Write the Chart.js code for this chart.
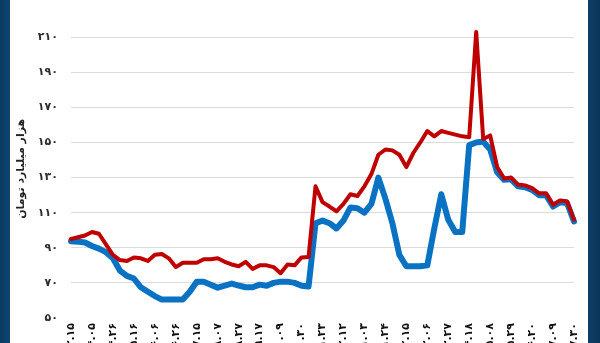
<!DOCTYPE html>
<html>
<head>
<meta charset="utf-8">
<script src="https://cdn.jsdelivr.net/npm/chart.js@4/dist/chart.umd.min.js"></script>
<style>
  html, body { margin: 0; padding: 0; }
  body {
    width: 600px; height: 343px; overflow: hidden;
    background: linear-gradient(to right, #0b3a60 0px, #0d4470 10px, #ffffff 10px, #ffffff 588px, #0c3f68 588px, #0a3459 600px);
  }
  #wrap { position: absolute; left: 0; top: 0; width: 600px; height: 400px; }
</style>
</head>
<body>
<div id="wrap"><canvas id="c" width="600" height="400"></canvas></div>
<script>
// Weekly dates (Solar Hijri)
const weeks = [
  '۱۴۰۰.۰۳.۱۵','۱۴۰۰.۰۳.۲۲','۱۴۰۰.۰۳.۲۹','۱۴۰۰.۰۴.۰۵','۱۴۰۰.۰۴.۱۲','۱۴۰۰.۰۴.۱۹',
  '۱۴۰۰.۰۴.۲۶','۱۴۰۰.۰۵.۰۲','۱۴۰۰.۰۵.۰۹','۱۴۰۰.۰۵.۱۶','۱۴۰۰.۰۵.۲۳','۱۴۰۰.۰۵.۳۰',
  '۱۴۰۰.۰۶.۰۶','۱۴۰۰.۰۶.۱۳','۱۴۰۰.۰۶.۲۰','۱۴۰۰.۰۶.۲۶','۱۴۰۰.۰۷.۰۳','۱۴۰۰.۰۷.۱۰',
  '۱۴۰۰.۰۷.۱۵','۱۴۰۰.۰۷.۲۴','۱۴۰۰.۰۸.۰۱','۱۴۰۰.۰۸.۰۷','۱۴۰۰.۰۸.۱۵','۱۴۰۰.۰۸.۲۲',
  '۱۴۰۰.۰۸.۲۷','۱۴۰۰.۰۹.۰۶','۱۴۰۰.۰۹.۱۳','۱۴۰۰.۰۹.۱۷','۱۴۰۰.۰۹.۲۷','۱۴۰۰.۱۰.۰۴',
  '۱۴۰۰.۱۰.۰۹','۱۴۰۰.۱۰.۱۸','۱۴۰۰.۱۰.۲۵','۱۴۰۰.۱۰.۳۰','۱۴۰۰.۱۱.۰۹','۱۴۰۰.۱۱.۱۶',
  '۱۴۰۰.۱۱.۲۳','۱۴۰۰.۱۱.۳۰','۱۴۰۰.۱۲.۰۷','۱۴۰۰.۱۲.۱۲','۱۴۰۰.۱۲.۲۱','۱۴۰۰.۱۲.۲۸',
  '۱۴۰۱.۰۱.۰۳','۱۴۰۱.۰۱.۱۳','۱۴۰۱.۰۱.۲۰','۱۴۰۱.۰۱.۲۴','۱۴۰۱.۰۲.۰۳','۱۴۰۱.۰۲.۱۰',
  '۱۴۰۱.۰۲.۱۵','۱۴۰۱.۰۲.۲۴','۱۴۰۱.۰۲.۳۱','۱۴۰۱.۰۳.۰۶','۱۴۰۱.۰۳.۱۴','۱۴۰۱.۰۳.۲۱',
  '۱۴۰۱.۰۳.۲۷','۱۴۰۱.۰۴.۰۴','۱۴۰۱.۰۴.۱۱','۱۴۰۱.۰۴.۱۸','۱۴۰۱.۰۴.۲۵','۱۴۰۱.۰۵.۰۱',
  '۱۴۰۱.۰۵.۰۸','۱۴۰۱.۰۵.۱۵','۱۴۰۱.۰۵.۲۲','۱۴۰۱.۰۵.۲۹','۱۴۰۱.۰۶.۰۵','۱۴۰۱.۰۶.۱۲',
  '۱۴۰۱.۰۶.۲۰','۱۴۰۱.۰۶.۲۶','۱۴۰۱.۰۷.۰۲','۱۴۰۱.۰۷.۰۹','۱۴۰۱.۰۷.۱۶','۱۴۰۱.۰۷.۲۳',
  '۱۴۰۱.۰۷.۳۰'
];

// Red series (thousand billion toman)
const redSeries = [
  95, 96, 97, 99, 98, 92, 86, 83, 82.5, 84.5,
  84, 82.5, 86, 86.5, 84, 79, 81.5, 81.5, 81.5, 83.5,
  83.5, 84, 82, 80.5, 79.5, 82, 78, 80, 80, 79,
  75.5, 80.5, 80, 84.5, 84.7, 125, 116, 113.5, 110.8, 115,
  120.5, 119.5, 125, 132, 143, 146, 145.5, 143, 136, 144,
  150, 156.5, 153.5, 156.5, 155.5, 154.5, 153.5, 153, 213, 152,
  154, 136, 129.5, 130, 126, 125.5, 124, 121, 121, 114.5,
  117, 116.5, 106
];

// Blue series (thousand billion toman)
const blueSeries = [
  93.7, 93.5, 93, 91, 89.5, 87.5, 84, 77, 74, 72.5,
  67.5, 65, 62.5, 60.5, 60.5, 60.5, 60.5, 65, 70.7, 70.7,
  69, 67.3, 68.5, 69.6, 68.5, 67.5, 67.5, 69, 68.4, 70,
  70.7, 70.7, 70, 68.4, 67.9, 104, 105.5, 104, 101, 105.5,
  113, 112.5, 110, 115, 130, 118, 104, 86, 79.5, 79.5,
  79.5, 80, 101, 120.5, 106, 99, 99, 148.5, 150, 150.5,
  146, 133, 128.7, 129, 125, 124.5, 123, 120, 120, 113.5,
  116, 115.5, 105
];

// Value axis ticks
const yTicks = [50, 70, 90, 110, 130, 150, 170, 190, 210];

const faDigits = '۰۱۲۳۴۵۶۷۸۹';
const toFa = s => String(s).replace(/[0-9]/g, d => faDigits[d]);

const FONT = '"DejaVu Sans", sans-serif';

new Chart(document.getElementById('c'), {
  type: 'line',
  data: {
    labels: weeks,
    datasets: [
      {
        label: 'red',
        data: redSeries,
        borderColor: '#c00000',
        borderWidth: 4,
        pointRadius: 0,
        tension: 0,
        borderJoinStyle: 'round',
        borderCapStyle: 'round',
        order: 1
      },
      {
        label: 'blue',
        data: blueSeries,
        borderColor: '#0a72c2',
        borderWidth: 6,
        pointRadius: 0,
        tension: 0,
        borderJoinStyle: 'round',
        borderCapStyle: 'round',
        order: 2
      }
    ]
  },
  options: {
    responsive: false,
    animation: false,
    layout: { padding: { top: 15, right: 26, left: 0, bottom: 0 } },
    plugins: {
      legend: { display: false },
      tooltip: { enabled: false }
    },
    scales: {
      x: {
        offset: false,
        grid: { display: false, drawTicks: false },
        border: { display: false },
        ticks: {
          autoSkip: false,
          minRotation: 90,
          maxRotation: 90,
          padding: 5,
          color: '#111',
          font: { family: FONT, size: 11, weight: 'bold' },
          callback: function (v, i) { return i % 3 === 0 ? weeks[i] : ''; }
        },
        afterFit: s => { s.height = 82; }
      },
      y: {
        min: 50,
        max: 220,
        afterBuildTicks: s => { s.ticks = yTicks.map(v => ({ value: v })); },
        grid: {
          drawTicks: false,
          color: c => (c.tick && c.tick.value === 50) ? 'rgba(0,0,0,0)' : '#dcdcdc',
          lineWidth: 1
        },
        border: { display: false },
        ticks: {
          padding: 13,
          color: '#2b2b2b',
          font: { family: FONT, size: 11, weight: 'bold' },
          callback: v => toFa(v)
        },
        title: {
          display: true,
          text: 'هزار میلیارد تومان',
          color: '#222',
          font: { family: FONT, size: 11, weight: 'bold' },
          padding: { top: 15, bottom: 0 }
        },
        afterFit: s => { s.width = 71; }
      }
    }
  }
});
</script>
</body>
</html>
